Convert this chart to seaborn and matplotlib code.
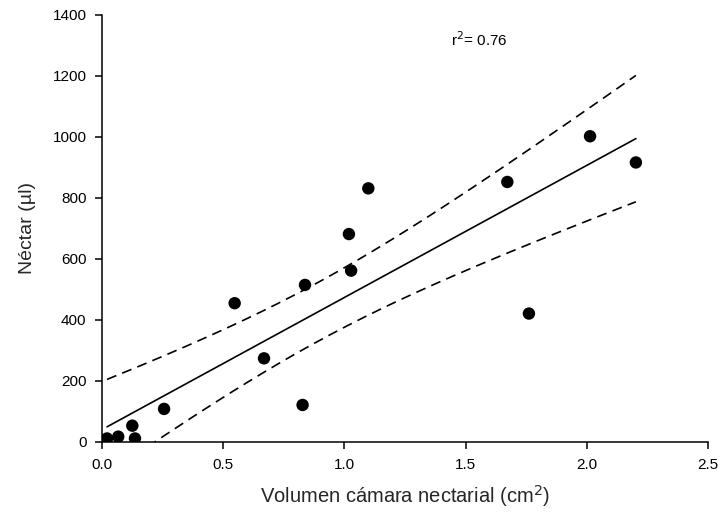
import numpy as np
import pandas as pd
import matplotlib
matplotlib.use("Agg")
import matplotlib.pyplot as plt
import seaborn as sns

# Nectar chamber volume (cm^2) and nectar volume (µl)
volumen = [0.022, 0.068, 0.126, 0.137, 0.257, 0.548, 0.669, 0.828, 0.838,
           1.019, 1.028, 1.099, 1.672, 1.761, 2.013, 2.202]
nectar = [10, 16, 52, 10, 107, 454, 273, 120, 514,
          681, 561, 831, 852, 420, 1002, 916]

x_ticks = [0.0, 0.5, 1.0, 1.5, 2.0, 2.5]
x_tick_labels = ["0.0", "0.5", "1.0", "1.5", "2.0", "2.5"]
y_ticks = [0, 200, 400, 600, 800, 1000, 1200, 1400]

sns.set_theme(style="ticks")
plt.rcParams["font.family"] = ["Liberation Sans", "DejaVu Sans"]

df = pd.DataFrame({"volumen": volumen, "nectar": nectar})

# Ordinary least squares fit and 95% confidence band of the mean
x = df["volumen"].to_numpy()
y = df["nectar"].to_numpy()
n = len(x)
slope, intercept = np.polyfit(x, y, 1)
pred = intercept + slope * x
resid = y - pred
s_err = np.sqrt(np.sum(resid ** 2) / (n - 2))
r2 = 1 - np.sum(resid ** 2) / np.sum((y - y.mean()) ** 2)
t_val = 2.1448  # t(0.975, df=14)
xs = np.linspace(x.min(), x.max(), 200)
ys = intercept + slope * xs
half = t_val * s_err * np.sqrt(1 / n + (xs - x.mean()) ** 2 / np.sum((x - x.mean()) ** 2))
fit = pd.DataFrame({"x": xs, "fit": ys, "lo": ys - half, "hi": ys + half})

fig = plt.figure(figsize=(7.23, 5.19), dpi=100)
ax = fig.add_axes([0.1407, 0.1493, 0.8388, 0.8218])

sns.scatterplot(data=df, x="volumen", y="nectar", ax=ax, color="black",
                s=80, edgecolor="none", zorder=3)
sns.lineplot(data=fit, x="x", y="fit", ax=ax, color="black", lw=1.2)
for col in ("lo", "hi"):
    sns.lineplot(data=fit, x="x", y=col, ax=ax, color="black", lw=1.2,
                 dashes=False, linestyle=(0, (6, 3.8)))

ax.set_xlim(0, 2.5)
ax.set_ylim(0, 1400)
ax.set_xticks(x_ticks)
ax.set_xticklabels(x_tick_labels)
ax.set_yticks(y_ticks)
ax.tick_params(axis="both", direction="out", length=5, width=1.1,
               labelsize=11, color="black", labelcolor="black")
ax.tick_params(axis="x", pad=7)
ax.tick_params(axis="y", pad=6)
for side in ("top", "right"):
    ax.spines[side].set_visible(False)
for side in ("left", "bottom"):
    ax.spines[side].set_linewidth(1.1)
    ax.spines[side].set_color("black")

ax.set_xlabel("Volumen cámara nectarial (cm$^2$)", fontsize=14.5, labelpad=8)
ax.set_ylabel("Néctar (µl)", fontsize=14, labelpad=12)

ax.text(1.44, 1297, f"r$^2$= {r2:.2f}", fontsize=11, ha="left",
        va="baseline", color="black")

fig.savefig("out.png", dpi=100)
